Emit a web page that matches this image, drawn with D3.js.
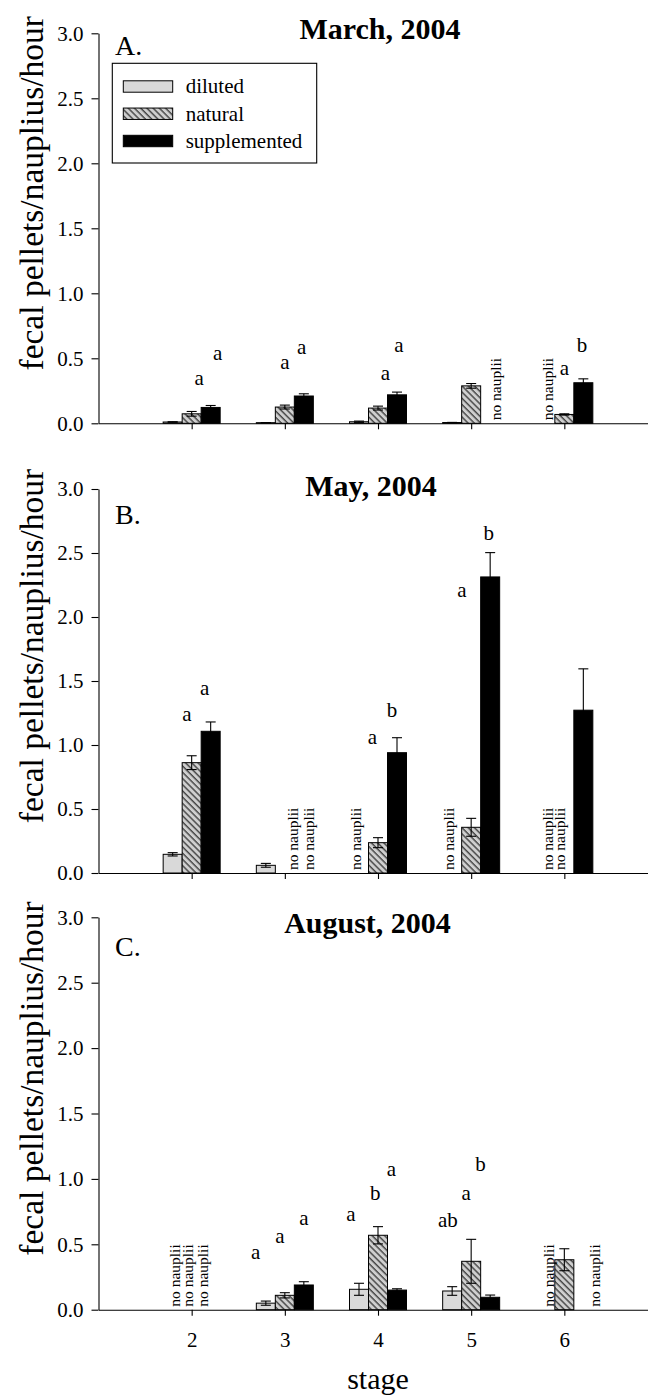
<!DOCTYPE html>
<html>
<head>
<meta charset="utf-8">
<script src="https://cdn.jsdelivr.net/npm/d3@7"></script>
<style>
  html, body { margin: 0; padding: 0; background: #fff; }
  svg { display: block; }
  svg text { font-family: "Liberation Serif", "Times New Roman", Times, "DejaVu Serif", serif !important; fill: #000; }
</style>
</head>
<body>
<svg id="chart" width="648" height="1397"></svg>
<script>
// Naupliar stages on the x axis and the three food treatments
const stages = [2, 3, 4, 5, 6];
const treatments = ["diluted", "natural", "supplemented"];
const yTicks = [0, 0.5, 1.0, 1.5, 2.0, 2.5, 3.0];

// Mean fecal pellets per nauplius per hour (null = no nauplii) and standard errors
// March, 2004
const marchDiluted        = [0.010, 0.005, 0.012, 0.006, null];
const marchDilutedSE      = [0.002, 0.001, 0.005, 0.001, null];
const marchNatural        = [0.073, 0.125, 0.117, 0.288, 0.068];
const marchNaturalSE      = [0.018, 0.015, 0.015, 0.018, 0.005];
const marchSupplemented   = [0.122, 0.210, 0.219, null, 0.312];
const marchSupplementedSE = [0.015, 0.017, 0.021, null, 0.030];
// May, 2004
const mayDiluted          = [0.146, 0.060, null, null, null];
const mayDilutedSE        = [0.013, 0.015, null, null, null];
const mayNatural          = [0.862, null, 0.237, 0.357, null];
const mayNaturalSE        = [0.054, null, 0.039, 0.070, null];
const maySupplemented     = [1.107, null, 0.940, 2.313, 1.272];
const maySupplementedSE   = [0.073, null, 0.117, 0.190, 0.323];
// August, 2004
const augDiluted          = [null, 0.050, 0.156, 0.143, null];
const augDilutedSE        = [null, 0.016, 0.046, 0.033, null];
const augNatural          = [null, 0.110, 0.569, 0.370, 0.382];
const augNaturalSE        = [null, 0.020, 0.066, 0.168, 0.084];
const augSupplemented     = [null, 0.189, 0.150, 0.095, null];
const augSupplementedSE   = [null, 0.025, 0.010, 0.017, null];

// Significance letters, placed at (stage, rate) coordinates
const marchLetters = [
  { s: 2.08, v: 0.295, t: "a" }, { s: 2.28, v: 0.49, t: "a" },
  { s: 3.00, v: 0.42,  t: "a" }, { s: 3.18, v: 0.53, t: "a" },
  { s: 4.08, v: 0.333, t: "a" }, { s: 4.225, v: 0.55, t: "a" },
  { s: 6.00, v: 0.37,  t: "a" }, { s: 6.19, v: 0.55, t: "b" }
];
const mayLetters = [
  { s: 1.95, v: 1.19, t: "a" }, { s: 2.14, v: 1.39, t: "a" },
  { s: 3.94, v: 1.01, t: "a" }, { s: 4.15, v: 1.22, t: "b" },
  { s: 4.90, v: 2.16, t: "a" }, { s: 5.19, v: 2.60, t: "b" }
];
const augLetters = [
  { s: 2.687, v: 0.39, t: "a" }, { s: 2.948, v: 0.51, t: "a" }, { s: 3.205, v: 0.65, t: "a" },
  { s: 3.71,  v: 0.68, t: "a" }, { s: 3.97,  v: 0.84, t: "b" }, { s: 4.143, v: 1.02, t: "a" },
  { s: 4.75,  v: 0.63, t: "ab" }, { s: 4.945, v: 0.84, t: "a" }, { s: 5.10,  v: 1.06, t: "b" }
];

// "no nauplii" notes, at stage coordinates
const marchNoNauplii = [5.27, 5.83];
const mayNoNauplii   = [3.086, 3.267, 3.77, 4.77, 5.83, 5.96];
const augNoNauplii   = [1.82, 1.96, 2.125, 5.84, 6.33];

const panels = [
  { title: "March, 2004", tag: "A.", top: 33.3, bottom: 423.3, titleX: 380, titleY: 39.3, tagY: 55,
    series: [[marchDiluted, marchDilutedSE], [marchNatural, marchNaturalSE], [marchSupplemented, marchSupplementedSE]],
    letters: marchLetters, notes: marchNoNauplii, legend: true, xLabels: false },
  { title: "May, 2004", tag: "B.", top: 489, bottom: 873, titleX: 371, titleY: 496, tagY: 524.3,
    series: [[mayDiluted, mayDilutedSE], [mayNatural, mayNaturalSE], [maySupplemented, maySupplementedSE]],
    letters: mayLetters, notes: mayNoNauplii, legend: false, xLabels: false },
  { title: "August, 2004", tag: "C.", top: 917.3, bottom: 1309.7, titleX: 367.5, titleY: 933, tagY: 956,
    series: [[augDiluted, augDilutedSE], [augNatural, augNaturalSE], [augSupplemented, augSupplementedSE]],
    letters: augLetters, notes: augNoNauplii, legend: false, xLabels: true }
];

const svg = d3.select("#chart");

// Fill styles for the treatments
const defs = svg.append("defs");
const hatch = defs.append("pattern")
  .attr("id", "hatch")
  .attr("patternUnits", "userSpaceOnUse")
  .attr("width", 4.4).attr("height", 4.4)
  .attr("patternTransform", "rotate(-45)");
hatch.append("rect").attr("width", 4.4).attr("height", 4.4).attr("fill", "#cfcfcf");
hatch.append("line").attr("x1", 1).attr("y1", 0).attr("x2", 1).attr("y2", 4.4)
  .attr("stroke", "#1a1a1a").attr("stroke-width", 1.1);

const fills = { diluted: "#d9d9d9", natural: "url(#hatch)", supplemented: "#000" };

const x = d3.scaleLinear().domain([1, 7]).range([98.5, 657.5]);
const slot = d3.scaleBand().domain(treatments).range([-28.5, 28.5]);

panels.forEach(p => {
  const y = d3.scaleLinear().domain([0, 3]).range([p.bottom, p.top]);
  const g = svg.append("g");

  // Bars
  p.series.forEach(([vals, ses], i) => {
    const tr = treatments[i];
    const rows = stages.map((s, k) => ({ s, v: vals[k], se: ses[k] })).filter(d => d.v !== null);
    g.selectAll(null).data(rows).enter().append("rect")
      .attr("x", d => x(d.s) + slot(tr))
      .attr("y", d => y(d.v))
      .attr("width", slot.bandwidth())
      .attr("height", d => y(0) - y(d.v))
      .attr("fill", fills[tr])
      .attr("stroke", "#000")
      .attr("stroke-width", 1);

    // Error bars (mean ± SE)
    const cap = 5;
    const eb = g.selectAll(null).data(rows).enter().append("g")
      .attr("stroke", "#000").attr("stroke-width", 1.1);
    const cx = d => x(d.s) + slot(tr) + slot.bandwidth() / 2;
    eb.append("line").attr("x1", cx).attr("x2", cx)
      .attr("y1", d => y(d.v - d.se)).attr("y2", d => y(d.v + d.se));
    eb.append("line").attr("x1", d => cx(d) - cap).attr("x2", d => cx(d) + cap)
      .attr("y1", d => y(d.v + d.se)).attr("y2", d => y(d.v + d.se));
    eb.append("line").attr("x1", d => cx(d) - cap).attr("x2", d => cx(d) + cap)
      .attr("y1", d => y(d.v - d.se)).attr("y2", d => y(d.v - d.se));
  });

  // Axes
  const yAxis = d3.axisLeft(y).tickValues(yTicks).tickFormat(d3.format(".1f"))
    .tickSizeInner(7).tickSizeOuter(0).tickPadding(8);
  const ya = g.append("g").attr("transform", `translate(${x(1)},0)`).call(yAxis);
  ya.attr("font-family", null).attr("font-size", 21);

  const xAxis = d3.axisBottom(x).tickValues(stages)
    .tickFormat(p.xLabels ? d3.format("d") : () => "")
    .tickSizeInner(6).tickSizeOuter(0).tickPadding(16);
  const xa = g.append("g").attr("transform", `translate(0,${y(0)})`).call(xAxis);
  xa.attr("font-family", null).attr("font-size", 21);
  [ya, xa].forEach(a => a.selectAll("path, line").attr("stroke", "#000").attr("stroke-width", 1.1));

  // Titles
  g.append("text").attr("x", p.titleX).attr("y", p.titleY)
    .attr("text-anchor", "middle").attr("font-size", 30).attr("font-weight", "bold")
    .text(p.title);
  g.append("text").attr("x", 115).attr("y", p.tagY)
    .attr("font-size", 28).text(p.tag);

  const midY = (p.top + p.bottom) / 2 - 35;
  g.append("text")
    .attr("transform", `translate(43,${midY}) rotate(-90)`)
    .attr("text-anchor", "middle").attr("font-size", 33.5)
    .text("fecal pellets/nauplius/hour");

  // Significance letters
  g.selectAll(null).data(p.letters).enter().append("text")
    .attr("x", d => x(d.s)).attr("y", d => y(d.v))
    .attr("text-anchor", "middle").attr("font-size", 21)
    .text(d => d.t);

  // "no nauplii" notes
  g.selectAll(null).data(p.notes).enter().append("text")
    .attr("transform", d => `translate(${x(d) + 4.7},${y(0) - 3}) rotate(-90)`)
    .attr("font-size", 15.5)
    .text("no nauplii");

  // Legend
  if (p.legend) {
    const lg = g.append("g");
    lg.append("rect").attr("x", 112.3).attr("y", 63.3).attr("width", 204.4).attr("height", 99.7)
      .attr("fill", "#fff").attr("stroke", "#000").attr("stroke-width", 1.1);
    const rowY = d3.scalePoint().domain(treatments).range([86.5, 141]);
    treatments.forEach(tr => {
      lg.append("rect").attr("x", 123.3).attr("y", rowY(tr) - 5.7).attr("width", 49.4).attr("height", 11.4)
        .attr("fill", fills[tr]).attr("stroke", "#000").attr("stroke-width", 1);
      lg.append("text").attr("x", 185.7).attr("y", rowY(tr) + 6.8).attr("font-size", 21).text(tr);
    });
  }
});

// Shared x-axis title
svg.append("text").attr("x", 378).attr("y", 1389)
  .attr("text-anchor", "middle").attr("font-size", 30).text("stage");
</script>
</body>
</html>
